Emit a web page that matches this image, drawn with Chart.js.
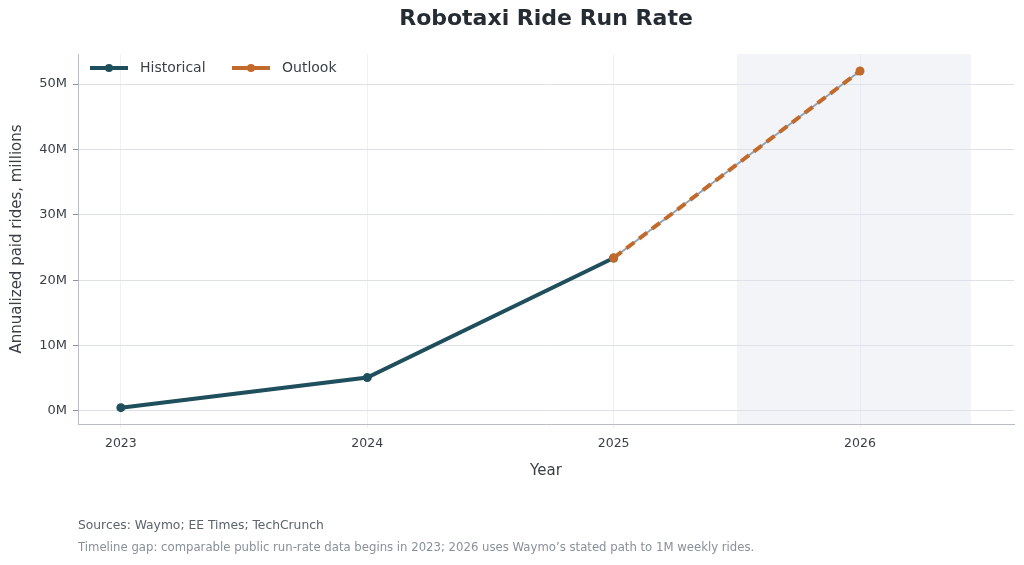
<!DOCTYPE html>
<html>
<head>
<meta charset="utf-8">
<script src="https://cdn.jsdelivr.net/npm/chart.js@4"></script>
<style>
  html, body { margin: 0; padding: 0; background: #ffffff; }
  #wrap { position: relative; width: 1024px; height: 565px; }
</style>
</head>
<body>
<div id="wrap"><canvas id="chart" width="1024" height="565"></canvas></div>
<script>
// Data (annualized paid rides, millions)
var years = [2023, 2024, 2025, 2026];
var historical = [0.5, 5.1, 23.4, null];
var outlook = [null, null, 23.4, 52.0];
var yTicks = [0, 10, 20, 30, 40, 50];
var shadeRange = [2025.5, 2026.45]; // shaded outlook band, in years

var titleText = "Robotaxi Ride Run Rate";
var sourceText = "Sources: Waymo; EE Times; TechCrunch";
var noteText = "Timeline gap: comparable public run-rate data begins in 2023; 2026 uses Waymo\u2019s stated path to 1M weekly rides.";

// Colours
var histColor = "#1f4e5d";
var outColor = "#c26a2c";
var helperColor = "#8fa3b3";
var fontFam = "'DejaVu Sans', sans-serif";

function toPoints(vals) {
  var pts = [];
  for (var i = 0; i < years.length; i++) {
    if (vals[i] !== null) pts.push({ x: years[i], y: vals[i] });
  }
  return pts;
}

// Background band + title + footnotes + legend
var extras = {
  id: "extras",
  beforeDatasetsDraw: function (chart) {
    var ctx = chart.ctx, a = chart.chartArea, x = chart.scales.x;
    var x0 = x.getPixelForValue(shadeRange[0]);
    var x1 = x.getPixelForValue(shadeRange[1]);
    ctx.save();
    ctx.fillStyle = "rgba(224,228,235,0.42)";
    ctx.fillRect(x0, a.top, x1 - x0, a.bottom - a.top);
    ctx.restore();
  },
  afterDraw: function (chart) {
    var ctx = chart.ctx, a = chart.chartArea;
    ctx.save();
    // title
    ctx.fillStyle = "#262c33";
    ctx.font = "bold 22px " + fontFam;
    ctx.textAlign = "center";
    ctx.textBaseline = "middle";
    ctx.fillText(titleText, (a.left + a.right) / 2, 19);

    // footnotes
    ctx.textAlign = "left";
    ctx.font = "12.3px " + fontFam;
    ctx.fillStyle = "#5c636d";
    ctx.fillText(sourceText, 78, 526);
    ctx.font = "11.7px " + fontFam;
    ctx.fillStyle = "#8a9099";
    ctx.fillText(noteText, 78, 548);

    // legend inside plot
    var items = [
      { label: "Historical", color: histColor, x: 90 },
      { label: "Outlook", color: outColor, x: 232 }
    ];
    var ly = 68;
    items.forEach(function (it) {
      ctx.strokeStyle = it.color;
      ctx.lineWidth = 4;
      ctx.beginPath();
      ctx.moveTo(it.x, ly);
      ctx.lineTo(it.x + 38, ly);
      ctx.stroke();
      ctx.fillStyle = it.color;
      ctx.beginPath();
      ctx.arc(it.x + 19, ly, 4, 0, Math.PI * 2);
      ctx.fill();
      ctx.fillStyle = "#3a3f47";
      ctx.font = "14px " + fontFam;
      ctx.fillText(it.label, it.x + 50, ly);
    });
    ctx.restore();
  }
};

var ctx = document.getElementById("chart").getContext("2d");
var chart = new Chart(ctx, {
  type: "line",
  data: {
    datasets: [
      {
        label: "Outlook",
        data: toPoints(outlook),
        borderColor: outColor,
        backgroundColor: outColor,
        borderWidth: 4,
        borderDash: [10, 6],
        pointRadius: 4.5,
        pointHoverRadius: 4.5,
        pointBorderWidth: 0,
        order: 0
      },
      {
        label: "helper",
        data: toPoints(outlook),
        borderColor: helperColor,
        borderWidth: 2,
        pointRadius: 0,
        order: 1
      },
      {
        label: "Historical",
        data: toPoints(historical),
        borderColor: histColor,
        backgroundColor: histColor,
        borderWidth: 4,
        pointRadius: 4.5,
        pointHoverRadius: 4.5,
        pointBorderWidth: 0,
        order: 2
      }
    ]
  },
  options: {
    responsive: false,
    animation: false,
    layout: { padding: { left: 0, right: 10, top: 54, bottom: 81 } },
    plugins: {
      legend: { display: false },
      tooltip: { enabled: false },
      title: { display: false }
    },
    scales: {
      x: {
        type: "linear",
        min: 2022.826,
        max: 2026.625,
        afterBuildTicks: function (s) {
          s.ticks = years.map(function (v) { return { value: v }; });
        },
        afterFit: function (s) { s.height = 60; },
        ticks: {
          color: "#3a3f47",
          font: { family: fontFam, size: 12.5 },
          padding: 8,
          maxRotation: 0,
          callback: function (v) { return String(v); }
        },
        grid: { color: "#eef0f4", lineWidth: 1, tickLength: 4, tickColor: "#eef0f4" },
        border: { display: true, color: "#b8bec8", width: 1 },
        title: {
          display: true,
          text: "Year",
          color: "#3a3f47",
          font: { family: fontFam, size: 15 },
          padding: { top: 12 }
        }
      },
      y: {
        min: -2,
        max: 54.6,
        afterBuildTicks: function (s) {
          s.ticks = yTicks.map(function (v) { return { value: v }; });
        },
        afterFit: function (s) { s.width = 78; },
        ticks: {
          color: "#3a3f47",
          font: { family: fontFam, size: 13 },
          padding: 6,
          callback: function (v) { return v + "M"; }
        },
        grid: { color: "#dde0e6", lineWidth: 1, tickLength: 5, tickColor: "#8a9099" },
        border: { display: true, color: "#b8bec8", width: 1 },
        title: {
          display: true,
          text: "Annualized paid rides, millions",
          color: "#3a3f47",
          font: { family: fontFam, size: 15 },
          padding: { top: 8, bottom: 4 }
        }
      }
    }
  },
  plugins: [extras]
});
</script>
</body>
</html>
